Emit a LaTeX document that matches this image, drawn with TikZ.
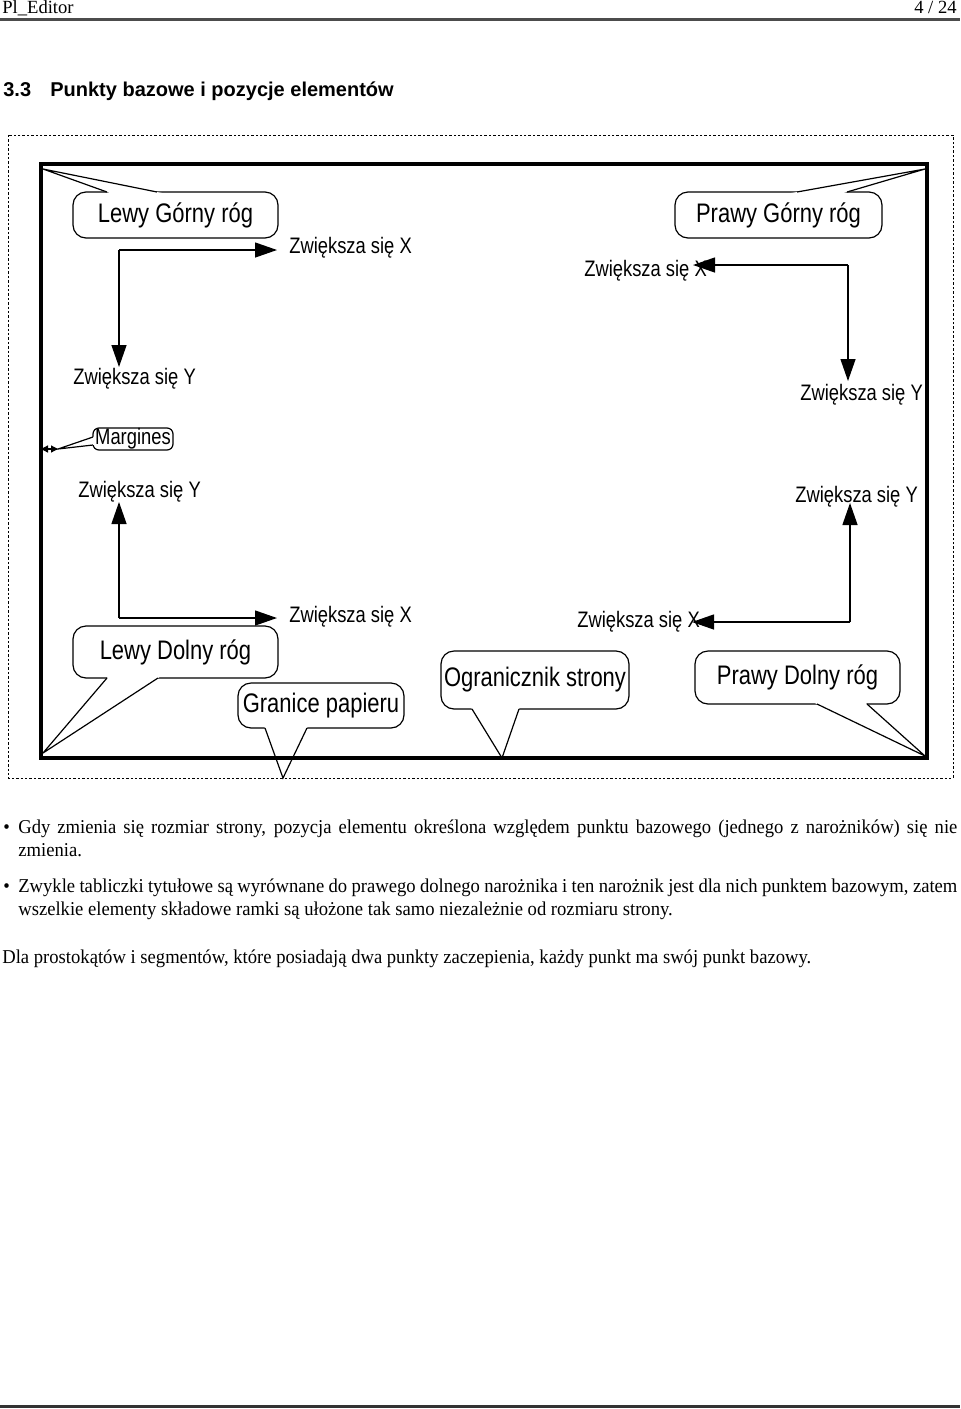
\documentclass[tikz,border=0pt]{standalone}
\usepackage{fontspec}
\setmainfont{Liberation Serif}
\newfontfamily\bodyfont[FakeStretch=0.95]{Liberation Serif}
\newfontfamily\shotfont[FakeStretch=0.82]{Liberation Sans}
\newfontfamily\headsans{Liberation Sans}
\usetikzlibrary{arrows.meta,calc}

\tikzset{
  frameline/.style={line width=1.85pt},
  edgeline/.style={line width=.5pt,dash pattern=on 1.2pt off 1pt},
  bubble/.style={draw,line width=.6pt,rounded corners=6.5pt,inner sep=0pt,
    font=\shotfont\fontsize{13.4}{14}\selectfont},
  tag/.style={inner sep=0pt,anchor=base west,font=\shotfont\fontsize{11.2}{12}\selectfont},
  axis/.style={line width=.65pt,-{Triangle[length=11pt,width=7.5pt]}},
  tail/.style={line width=.6pt},
  bodytext/.style={inner sep=0pt,anchor=base west,font=\bodyfont\fontsize{9.8}{11.6}\selectfont},
}

\begin{document}
\begin{tikzpicture}[x=.5pt,y=-.5pt,line width=.35pt]
\useasboundingbox (0,0) rectangle (960,1409);
% page head and foot
\node[inner sep=0pt,anchor=base west,font=\fontsize{9.3}{11}\selectfont] (head) at (2,13) {Pl\_Editor};
\node[inner sep=0pt,anchor=base east,font=\fontsize{9.3}{11}\selectfont] (pageno) at (957,13) {4 / 24};
\draw[line width=1.1pt,black!70] (0,19.5)--(960,19.5);
\draw[line width=1.1pt,black!80] (0,1406.5)--(960,1406.5);
\node[inner sep=0pt,anchor=base west,font=\headsans\bfseries\fontsize{10}{12}\selectfont] (secno) at (3,96) {3.3};
\node[inner sep=0pt,anchor=base west,font=\headsans\bfseries\fontsize{10}{12}\selectfont] (sectitle) at (50,96) {Punkty bazowe i pozycje elementów};

% the screenshot
\draw[edgeline] (8,135) rectangle (953,778);

\node[bubble,minimum width=102.5pt,minimum height=23pt] (lgr) at (175.5,215) {Lewy Górny róg};
\node[bubble,minimum width=103.5pt,minimum height=23pt] (pgr) at (778.5,215) {Prawy Górny róg};
\node[bubble,minimum width=102.5pt,minimum height=26pt] (ldr) at (175.5,652) {Lewy Dolny róg};
\node[bubble,minimum width=83pt,minimum height=22.5pt] (gp) at (321,705.5) {Granice papieru};
\node[bubble,minimum width=94pt,minimum height=29pt] (os) at (535,680) {Ogranicznik strony};
\node[bubble,minimum width=102.5pt,minimum height=26.5pt] (pdr) at (797.5,677.5) {Prawy Dolny róg};
\node[bubble,rounded corners=3pt,minimum width=40pt,minimum height=11pt,
  font=\shotfont\fontsize{11.2}{12}\selectfont] (marg) at (133,439) {Margines};

\coordinate (lgrtip) at (43,169);
\coordinate (pgrtip) at (925,169);
\coordinate (ldrtip) at (43,753);
\coordinate (gptip) at (283,778);
\coordinate (ostip) at (502,758);
\coordinate (pdrtip) at (925,756);
\coordinate (margtip) at (58,449);
\coordinate (margend) at (41,449);

\fill[white] (lgrtip)--($(lgrtip)!1.06!(107,192)$)--($(lgrtip)!1.06!(157,192)$)--cycle;
\draw[tail] (107,192)--(lgrtip)--(157,192);
\fill[white] (pgrtip)--($(pgrtip)!1.06!(797,192)$)--($(pgrtip)!1.06!(847,192)$)--cycle;
\draw[tail] (797,192)--(pgrtip)--(847,192);
\fill[white] (ldrtip)--($(ldrtip)!1.05!(107,678)$)--($(ldrtip)!1.05!(158,678)$)--cycle;
\draw[tail] (107,678)--(ldrtip)--(158,678);
\fill[white] (gptip)--($(gptip)!1.06!(265,728)$)--($(gptip)!1.06!(307,728)$)--cycle;
\draw[tail] (265,728)--(gptip)--(307,728);
\fill[white] (ostip)--($(ostip)!1.06!(472,709)$)--($(ostip)!1.06!(519,709)$)--cycle;
\draw[tail] (472,709)--(ostip)--(519,709);
\fill[white] (pdrtip)--($(pdrtip)!1.06!(817,704)$)--($(pdrtip)!1.06!(867,704)$)--cycle;
\draw[tail] (817,704)--(pdrtip)--(867,704);
\fill[white] (margtip)--($(margtip)!1.08!(93,437)$)--($(margtip)!1.08!(93,445)$)--cycle;
\draw[tail] (93,437)--(margtip)--(93,445);
\draw[line width=.6pt,{Triangle[length=3.5pt,width=3.5pt]}-{Triangle[length=3.5pt,width=3.5pt]}] (margend)--(margtip);

% growth directions
\node[tag] (ltx) at (289,253) {Zwiększa się X};
\node[tag] (lty) at (73,384) {Zwiększa się Y};
\node[tag] (rtx) at (584,276) {Zwiększa się X};
\node[tag] (rty) at (800,400) {Zwiększa się Y};
\node[tag] (lby) at (78,497) {Zwiększa się Y};
\node[tag] (lbx) at (289,622) {Zwiększa się X};
\node[tag] (rby) at (795,502) {Zwiększa się Y};
\node[tag] (rbx) at (577,627) {Zwiększa się X};

\coordinate (ltO) at (119,250);
\coordinate (rtO) at (848,265);
\coordinate (lbO) at (119,618);
\coordinate (rbO) at (850,622);
\draw[axis] (ltO)--(277,250);
\draw[axis] (ltO)--(119,367);
\draw[axis] (rtO)--(693,265);
\draw[axis] (rtO)--(848,381);
\draw[axis] (lbO)--(277,618);
\draw[axis] (lbO)--(119,502);
\draw[axis] (rbO)--(692,622);
\draw[axis] (rbO)--(850,503);

\draw[frameline] (41,164) rectangle (927,758);

% text below
\node[bodytext] (dot1) at (3,833) {\textbullet};
\node[bodytext,text width=469.5pt,align=justify] (item1) at (18,833)
  {Gdy zmienia się rozmiar strony, pozycja elementu określona względem punktu bazowego (jednego z narożników) się nie\linebreak zmienia.};
\node[bodytext] (dot2) at (3,892) {\textbullet};
\node[bodytext,text width=469.5pt,align=justify] (item2) at (18,892)
  {Zwykle tabliczki tytułowe są wyrównane do prawego dolnego narożnika i ten narożnik jest dla nich punktem bazowym, zatem\linebreak wszelkie elementy składowe ramki są ułożone tak samo niezależnie od rozmiaru strony.};
\node[bodytext] (para) at (2,963) {Dla prostokątów i segmentów, które posiadają dwa punkty zaczepienia, każdy punkt ma swój punkt bazowy.};
\end{tikzpicture}
\end{document}
